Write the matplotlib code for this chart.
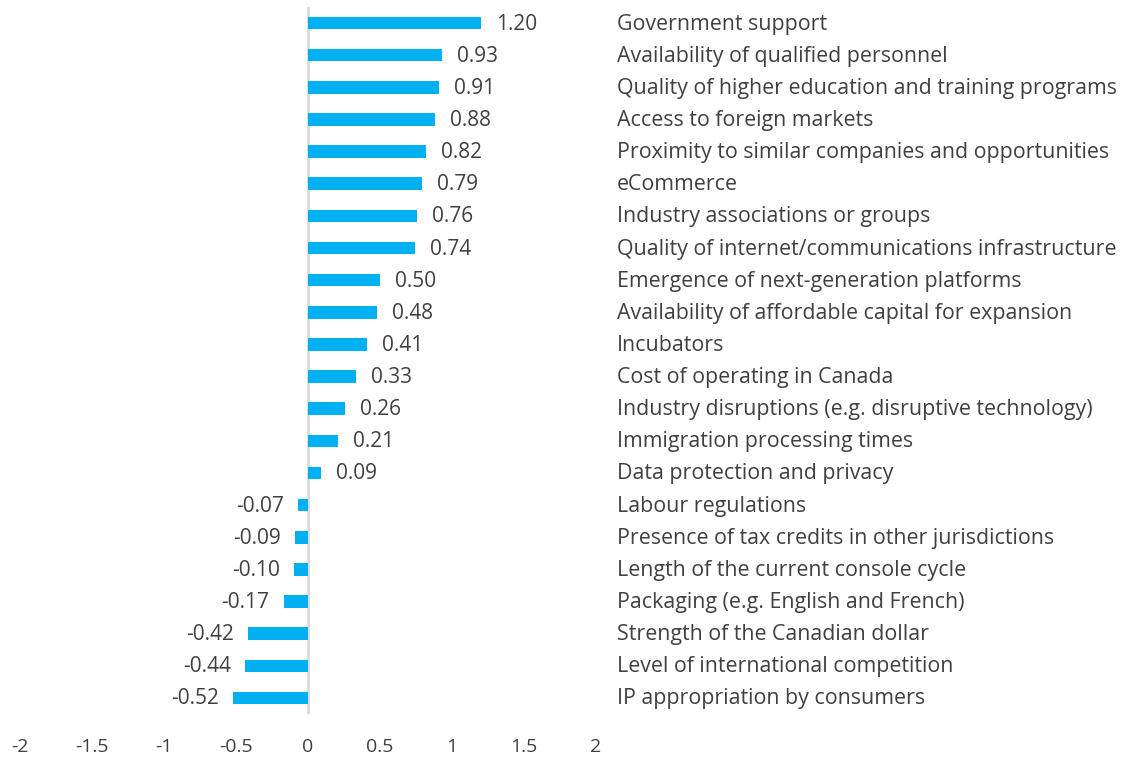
import matplotlib
matplotlib.use("Agg")
import matplotlib.pyplot as plt

plt.rcParams['font.family'] = ['Open Sans', 'DejaVu Sans']

categories = [
    "Government support",
    "Availability of qualified personnel",
    "Quality of higher education and training programs",
    "Access to foreign markets",
    "Proximity to similar companies and opportunities",
    "eCommerce",
    "Industry associations or groups",
    "Quality of internet/communications infrastructure",
    "Emergence of next-generation platforms",
    "Availability of affordable capital for expansion",
    "Incubators",
    "Cost of operating in Canada",
    "Industry disruptions (e.g. disruptive technology)",
    "Immigration processing times",
    "Data protection and privacy",
    "Labour regulations",
    "Presence of tax credits in other jurisdictions",
    "Length of the current console cycle",
    "Packaging (e.g. English and French)",
    "Strength of the Canadian dollar",
    "Level of international competition",
    "IP appropriation by consumers",
]
values = [1.20, 0.93, 0.91, 0.88, 0.82, 0.79, 0.76, 0.74, 0.50, 0.48, 0.41,
          0.33, 0.26, 0.21, 0.09, -0.07, -0.09, -0.10, -0.17, -0.42, -0.44, -0.52]
x_ticks = [-2, -1.5, -1, -0.5, 0, 0.5, 1, 1.5, 2]
x_tick_labels = ["-2", "-1.5", "-1", "-0.5", "0", "0.5", "1", "1.5", "2"]

bar_color = "#00B0F0"
text_color = "#404040"

W, H = 1124, 757
fig = plt.figure(figsize=(W / 100, H / 100), dpi=100)
ax = fig.add_axes([20 / W, (H - 714) / H, (596 - 20) / W, (714 - 7) / H])

pos = list(range(len(values)))
ax.barh(pos, values, height=0.39, color=bar_color, zorder=2)
ax.axvline(0, color="#d9d9d9", lw=2, zorder=1)

ax.set_xlim(-2, 2)
ax.set_ylim(len(values) - 0.5, -0.5)

ax.set_xticks(x_ticks)
ax.set_xticklabels(x_tick_labels, fontsize=14, color=text_color)
ax.tick_params(axis="x", length=0, pad=17)
ax.set_yticks([])
for s in ax.spines.values():
    s.set_visible(False)

for p, v in zip(pos, values):
    if v >= 0:
        ax.annotate(f"{v:.2f}", (v, p), xytext=(15, -1), textcoords="offset pixels",
                    ha="left", va="center", fontsize=15, color=text_color)
    else:
        ax.annotate(f"{v:.2f}", (v, p), xytext=(-14, -1), textcoords="offset pixels",
                    ha="right", va="center", fontsize=15, color=text_color)

for p, c in zip(pos, categories):
    ax.annotate(c, (1, p), xycoords=("axes fraction", "data"),
                xytext=(617 - 596, -1), textcoords="offset pixels",
                ha="left", va="center", fontsize=15.4, color=text_color)

fig.savefig("out.png", dpi=100)
